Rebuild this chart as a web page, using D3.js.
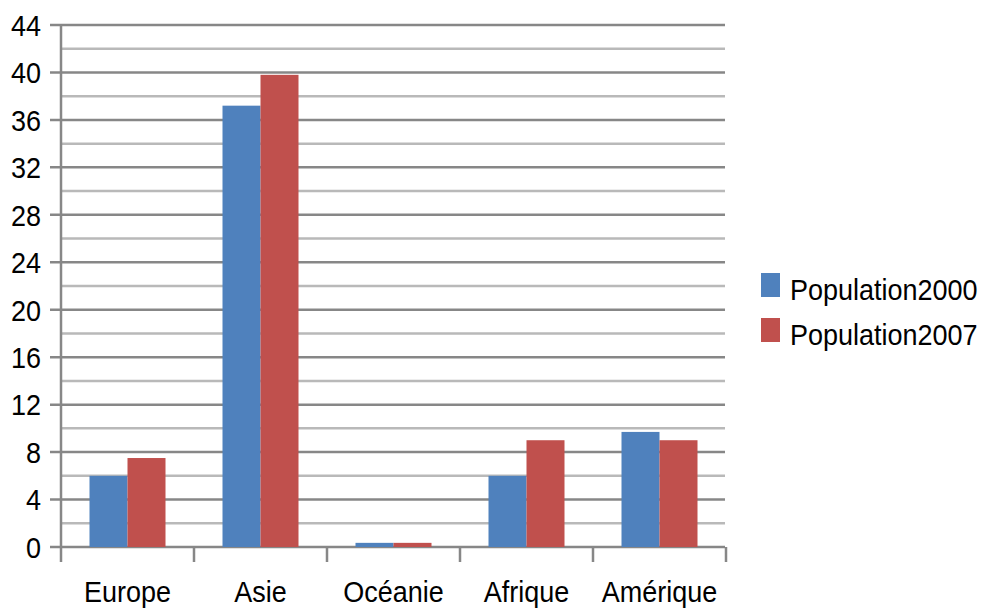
<!DOCTYPE html>
<html><head><meta charset="utf-8">
<script src="https://cdn.jsdelivr.net/npm/d3@7"></script>
<style>body{margin:0;background:#fff}svg{display:block}text{font-family:"Liberation Sans",Arial,sans-serif;fill:#000}</style>
</head><body><svg id="c" width="992" height="610"></svg>
<script>
const categories = ["Europe","Asie","Océanie","Afrique","Amérique"];
const seriesNames = ["Population2000","Population2007"];
const pop2000 = [6.0, 37.2, 0.35, 6.0, 9.7];
const pop2007 = [7.5, 39.8, 0.35, 9.0, 9.0];
const yTicks = [0,4,8,12,16,20,24,28,32,36,40,44];
const yMinor = [2,6,10,14,18,22,26,30,34,38,42];
const colors = ["#4f81bd","#c0504d"];

const svg = d3.select("#c");
const L=61, R=726, T=25, B=547;
const y = d3.scaleLinear().domain([0,44]).range([B,T]);
const x = d3.scaleBand().domain(categories).range([L,R]).padding(0);
const bw = x.bandwidth();
const barW = bw/3.5, gap = bw*0.75/3.5;
const SX = 0.9;

// minor grid
svg.append("g").selectAll("line").data(yMinor).join("line")
  .attr("x1",L+1).attr("x2",R-1).attr("y1",d=>y(d)).attr("y2",d=>y(d))
  .attr("stroke","#b9b9b9").attr("stroke-width",2.5);
// major grid
svg.append("g").selectAll("line").data(yTicks).join("line")
  .attr("x1",L-11).attr("x2",R-1).attr("y1",d=>y(d)).attr("y2",d=>y(d))
  .attr("stroke","#878787").attr("stroke-width",2.5);
// y axis line
svg.append("line").attr("x1",L).attr("x2",L).attr("y1",T).attr("y2",B+15)
  .attr("stroke","#878787").attr("stroke-width",2.5);
// category ticks
const bounds = categories.map(c=>x(c)).concat([R]);
svg.append("g").selectAll("line").data(bounds.slice(1)).join("line")
  .attr("x1",d=>d).attr("x2",d=>d).attr("y1",B).attr("y2",B+15)
  .attr("stroke","#878787").attr("stroke-width",2.5);

// bars
const series = [pop2000, pop2007];
series.forEach((vals,si)=>{
  svg.append("g").selectAll("rect").data(categories).join("rect")
    .attr("x",(c)=>x(c)+gap+si*barW)
    .attr("width",barW)
    .attr("y",(c,i)=>y(vals[i]))
    .attr("height",(c,i)=>y(0)-y(vals[i]))
    .attr("fill",colors[si]);
});

// y labels
svg.append("g").selectAll("text").data(yTicks).join("text")
  .attr("transform",d=>`translate(41,${y(d)}) scale(${SX},1)`).attr("dy","0.36em")
  .attr("text-anchor","end").attr("font-size",30).text(d=>d);
// x labels
svg.append("g").selectAll("text").data(categories).join("text")
  .attr("transform",c=>`translate(${x(c)+bw/2},602) scale(${SX},1)`)
  .attr("text-anchor","middle").attr("font-size",30).text(c=>c);

// legend
const lg = svg.append("g");
seriesNames.forEach((n,i)=>{
  lg.append("rect").attr("x",761).attr("y",273+i*45).attr("width",19).attr("height",24).attr("fill",colors[i]);
  lg.append("text").attr("transform",`translate(790,${300+i*45}) scale(${SX},1)`).attr("font-size",30).text(n);
});
</script></body></html>
